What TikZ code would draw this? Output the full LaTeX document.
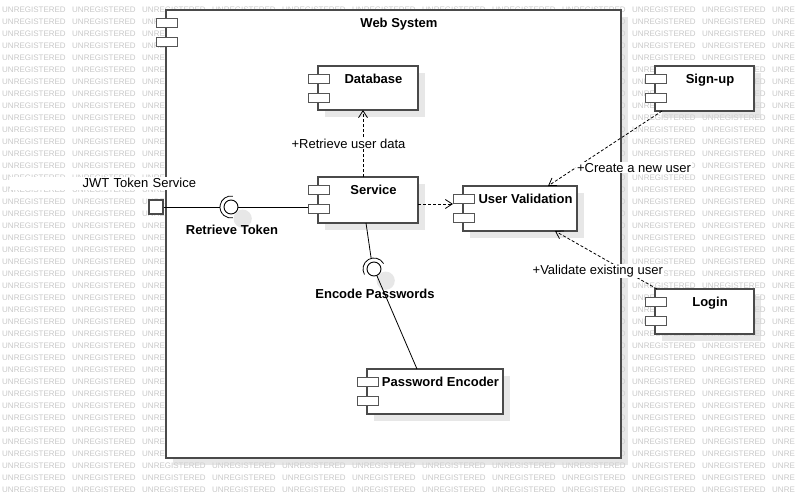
\documentclass[tikz,border=0pt]{standalone}
\usepackage{fontspec}
\setmainfont{Liberation Sans}
\usepackage{xcolor}
\usepackage{tikz}
\usetikzlibrary{arrows.meta, positioning, shadows}

\definecolor{boxline}{HTML}{4A4A4A}
\definecolor{portline}{HTML}{555555}
\definecolor{wmgray}{HTML}{C8C8C8}
\definecolor{shadowgray}{HTML}{D4D4D4}

\tikzset{
  complbl/.style={font=\fontsize{13}{15}\selectfont\bfseries, anchor=base, xshift=5.5pt, yshift=-17.5pt, inner sep=0pt},
  comp/.style={draw=boxline, line width=1.4pt, fill=white, inner sep=0pt, outer sep=0pt,
    drop shadow={shadow xshift=7pt, shadow yshift=-7pt, fill=shadowgray, opacity=0.55},
    label={[complbl]north:#1}},
  port/.style={draw=portline, line width=1pt, fill=white, minimum width=21pt, minimum height=9pt, inner sep=0pt, outer sep=0pt},
  ball/.style={circle, draw=black, line width=0.9pt, fill=white, minimum size=14pt, inner sep=0pt,
    drop shadow={shadow xshift=9pt, shadow yshift=-9pt, shadow scale=1.3, fill=shadowgray, opacity=0.55}},
  wire/.style={draw=black, line width=0.8pt},
  dep/.style={draw=black, line width=0.8pt, dash pattern=on 3pt off 2pt, -{Straight Barb[length=7pt,width=9pt]}},
  lbl/.style={fill=white, inner sep=1pt},
  wmark/.style={font=\fontsize{8}{9}\selectfont, text=wmgray, inner sep=0pt, anchor=west}
}

\begin{document}
\begin{tikzpicture}[x=1pt, y=1pt, font=\fontsize{13}{15}\selectfont]
\useasboundingbox (0,0) rectangle (795,-498);

% Watermark
\begin{scope}
\clip (0,0) rectangle (795,-498);
\foreach \r in {0,...,40} {
  \foreach \c in {0,...,11} {
    \node[wmark] (wm-\r-\c) at (2+70*\c, -10-12*\r) {UNREGISTERED};
  }
}
\end{scope}

% Web System
\node[comp=Web System, minimum width=455pt, minimum height=448pt] (web) at (393.5,-234) {};

% Components
\node[comp=Database, minimum width=100pt, minimum height=44pt] (db) at (368,-88) {};
\node[comp=Service, minimum width=100pt, minimum height=46pt] (svc) at (368,-200) {};
\node[comp=User Validation, minimum width=114pt, minimum height=45pt] (uv) at (520,-208.5) {};
\node[comp=Password Encoder, minimum width=136pt, minimum height=45pt] (enc) at (435,-391.5) {};
\node[comp=Sign-up, minimum width=99pt, minimum height=45pt] (sign) at (704.5,-88.5) {};
\node[comp=Login, minimum width=99pt, minimum height=45pt] (login) at (704.5,-311.5) {};

% Ports
\foreach \c in {web,db,svc,uv,enc,sign,login} {
  \node[port, anchor=north west] (\c-pa) at ([xshift=-10pt,yshift=-8pt]\c.north west) {};
  \node[port, anchor=north west] (\c-pb) at ([xshift=-10pt,yshift=-27pt]\c.north west) {};
}

% JWT Token Service
\node[fill=white, inner xsep=1pt, inner ysep=0pt, text width=185pt, align=right, minimum height=13pt] (jwtlbl) at (103.5,-183) {JWT Token Service};
\node[draw=boxline, line width=1.2pt, fill=white, minimum size=14pt, inner sep=0pt] (jwt) at (156,-207) {};

% Retrieve Token
\node[ball] (rtball) at (231,-207) {};
\draw[wire] (rtball.center) ++(80:11pt) arc[start angle=80, end angle=280, radius=11pt];
\path (rtball.center) ++(180:11pt) coordinate (rtsock);
\draw[wire] (jwt) -- (rtsock);
\draw[wire] (rtball) -- (rtball -| svc-pb.west);
\node[font=\fontsize{13}{15}\selectfont\bfseries] (rtlbl) at (232,-230) {Retrieve Token};

% Encode Passwords
\node[ball] (epball) at (374,-269) {};
\draw[wire] (epball.center) ++(30:11pt) arc[start angle=30, end angle=210, radius=11pt];
\path (epball.center) ++(105:11pt) coordinate (epsock);
\draw[wire] ([xshift=-2pt]svc.south) -- (epsock);
\draw[wire] (epball) -- ([xshift=-18pt]enc.north);
\node[font=\fontsize{13}{15}\selectfont\bfseries] (eplbl) at (375,-294) {Encode Passwords};

% Dependencies
\draw[dep] ([xshift=-5pt]svc.north) -- node[lbl, xshift=-14.5pt] (rudlbl) {+Retrieve user data} ([xshift=-5pt]db.south);
\draw[dep] ([yshift=-4pt]svc.east) -- ([yshift=-4pt]svc.east -| uv-pa.west);
\draw[dep] ([xshift=-42.5pt]sign.south) -- node[lbl, pos=0.757, anchor=west] (cnulbl) {+Create a new user} ([xshift=28pt]uv.north);
\draw[dep] ([xshift=-47.5pt]login.north) -- node[lbl, pos=0.316, xshift=-27pt] (veulbl) {+Validate existing user} ([xshift=35pt]uv.south);
\end{tikzpicture}
\end{document}
